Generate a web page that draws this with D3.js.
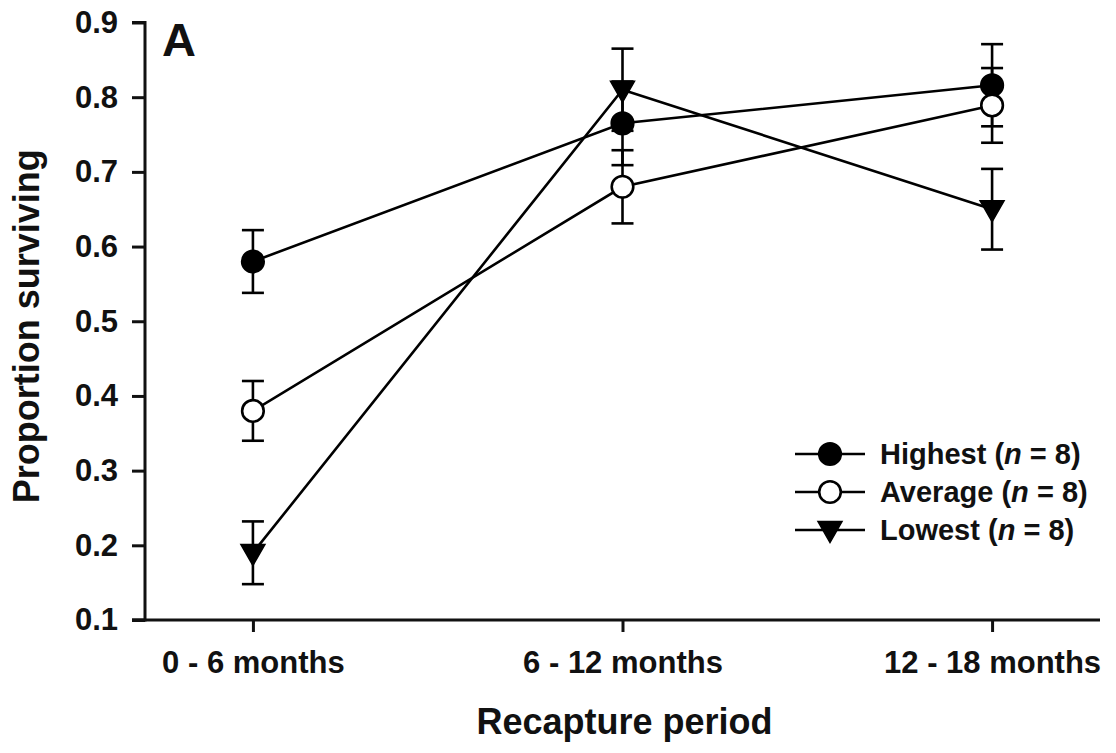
<!DOCTYPE html>
<html>
<head>
<meta charset="utf-8">
<script src="https://cdn.jsdelivr.net/npm/d3@7/dist/d3.min.js"></script>
<style>
  body { margin: 0; background: #fff; }
  text { font-family: "Liberation Sans", Arial, sans-serif; font-weight: bold; fill: #111; }
</style>
</head>
<body>
<svg id="chart" width="1116" height="753"></svg>
<script>
// Recapture periods and survival estimates (mean ± SE) per group
const periods = ["0 - 6 months", "6 - 12 months", "12 - 18 months"];
const highest = [0.58, 0.765, 0.816];
const highestErr = [0.042, 0.056, 0.055];
const average = [0.38, 0.68, 0.789];
const averageErr = [0.04, 0.049, 0.05];
const lowest = [0.19, 0.81, 0.65];
const lowestErr = [0.042, 0.055, 0.054];
const yTicks = [0.1, 0.2, 0.3, 0.4, 0.5, 0.6, 0.7, 0.8, 0.9];

const groups = [
  { name: "Highest", values: highest, err: highestErr, shape: "circle", fill: "#000" },
  { name: "Average", values: average, err: averageErr, shape: "circle", fill: "#fff" },
  { name: "Lowest", values: lowest, err: lowestErr, shape: "triangle", fill: "#000" }
];

const svg = d3.select("#chart");
const plotLeft = 145, plotRight = 1100, plotTop = 22.5, plotBottom = 620;

const x = d3.scalePoint().domain(periods).range([plotLeft, plotRight]).padding(0.292);
const y = d3.scaleLinear().domain([0.1, 0.9]).range([plotBottom, plotTop]);

// Axes
const yAxis = svg.append("g").attr("transform", `translate(${plotLeft},0)`)
  .call(d3.axisLeft(y).tickValues(yTicks).tickFormat(d3.format(".1f")).tickSize(13).tickPadding(14));
const xAxis = svg.append("g").attr("transform", `translate(0,${plotBottom})`)
  .call(d3.axisBottom(x).tickSize(12).tickPadding(19).tickSizeOuter(0));
[yAxis, xAxis].forEach(g => {
  g.select(".domain").attr("stroke", "#111").attr("stroke-width", 3);
  g.selectAll(".tick line").attr("stroke", "#111").attr("stroke-width", 3);
  g.selectAll(".tick text").style("font-size", "31px").attr("fill", "#111");
});
yAxis.select(".domain").attr("d", `M-13,${plotTop}H0V${plotBottom}H-13`);
xAxis.select(".domain").attr("d", `M${plotLeft - 13},0H${plotRight}`);

// Connecting lines
const line = d3.line().x((d, i) => x(periods[i])).y(d => y(d));
groups.forEach(g => {
  svg.append("path").datum(g.values).attr("d", line)
    .attr("fill", "none").attr("stroke", "#000").attr("stroke-width", 2.6);
});

// Error bars
const cap = 11;
groups.forEach(g => {
  g.values.forEach((v, i) => {
    const cx = x(periods[i]);
    const y1 = y(v + g.err[i]), y0 = y(v - g.err[i]);
    const eg = svg.append("g").attr("stroke", "#000").attr("stroke-width", 2.6);
    eg.append("line").attr("x1", cx).attr("x2", cx).attr("y1", y1).attr("y2", y0);
    eg.append("line").attr("x1", cx - cap).attr("x2", cx + cap).attr("y1", y1).attr("y2", y1);
    eg.append("line").attr("x1", cx - cap).attr("x2", cx + cap).attr("y1", y0).attr("y2", y0);
  });
});

// Markers
function drawMarker(sel, shape, fill, cx, cy) {
  if (shape === "circle") {
    sel.append("circle").attr("cx", cx).attr("cy", cy).attr("r", 10.8)
      .attr("fill", fill).attr("stroke", "#000").attr("stroke-width", 2.6);
  } else {
    const w = 12, h = 21;
    sel.append("path")
      .attr("d", `M${cx - w},${cy - h * 0.4}L${cx + w},${cy - h * 0.4}L${cx},${cy + h * 0.6}Z`)
      .attr("fill", fill).attr("stroke", "#000").attr("stroke-width", 1.5).attr("stroke-linejoin", "miter");
  }
}
groups.forEach(g => {
  g.values.forEach((v, i) => drawMarker(svg, g.shape, g.fill, x(periods[i]), y(v)));
});

// Legend
const legend = svg.append("g");
groups.forEach((g, i) => {
  const ly = 454 + i * 38;
  legend.append("line").attr("x1", 795).attr("x2", 865).attr("y1", ly).attr("y2", ly)
    .attr("stroke", "#000").attr("stroke-width", 2.6);
  drawMarker(legend, g.shape, g.fill, 830, ly);
  const t = legend.append("text").attr("x", 880).attr("y", ly + 10).style("font-size", "29px");
  t.append("tspan").text(`${g.name} (`);
  t.append("tspan").style("font-style", "italic").text("n");
  t.append("tspan").text(" = 8)");
});

// Titles
svg.append("text").attr("x", 162).attr("y", 56).style("font-size", "47px").text("A");
svg.append("text").attr("transform", `translate(39,${(plotTop + plotBottom) / 2 + 5}) rotate(-90)`)
  .attr("text-anchor", "middle").style("font-size", "36px").text("Proportion surviving");
svg.append("text").attr("x", (plotLeft + plotRight) / 2 + 2).attr("y", 734)
  .attr("text-anchor", "middle").style("font-size", "36px").text("Recapture period");
</script>
</body>
</html>
